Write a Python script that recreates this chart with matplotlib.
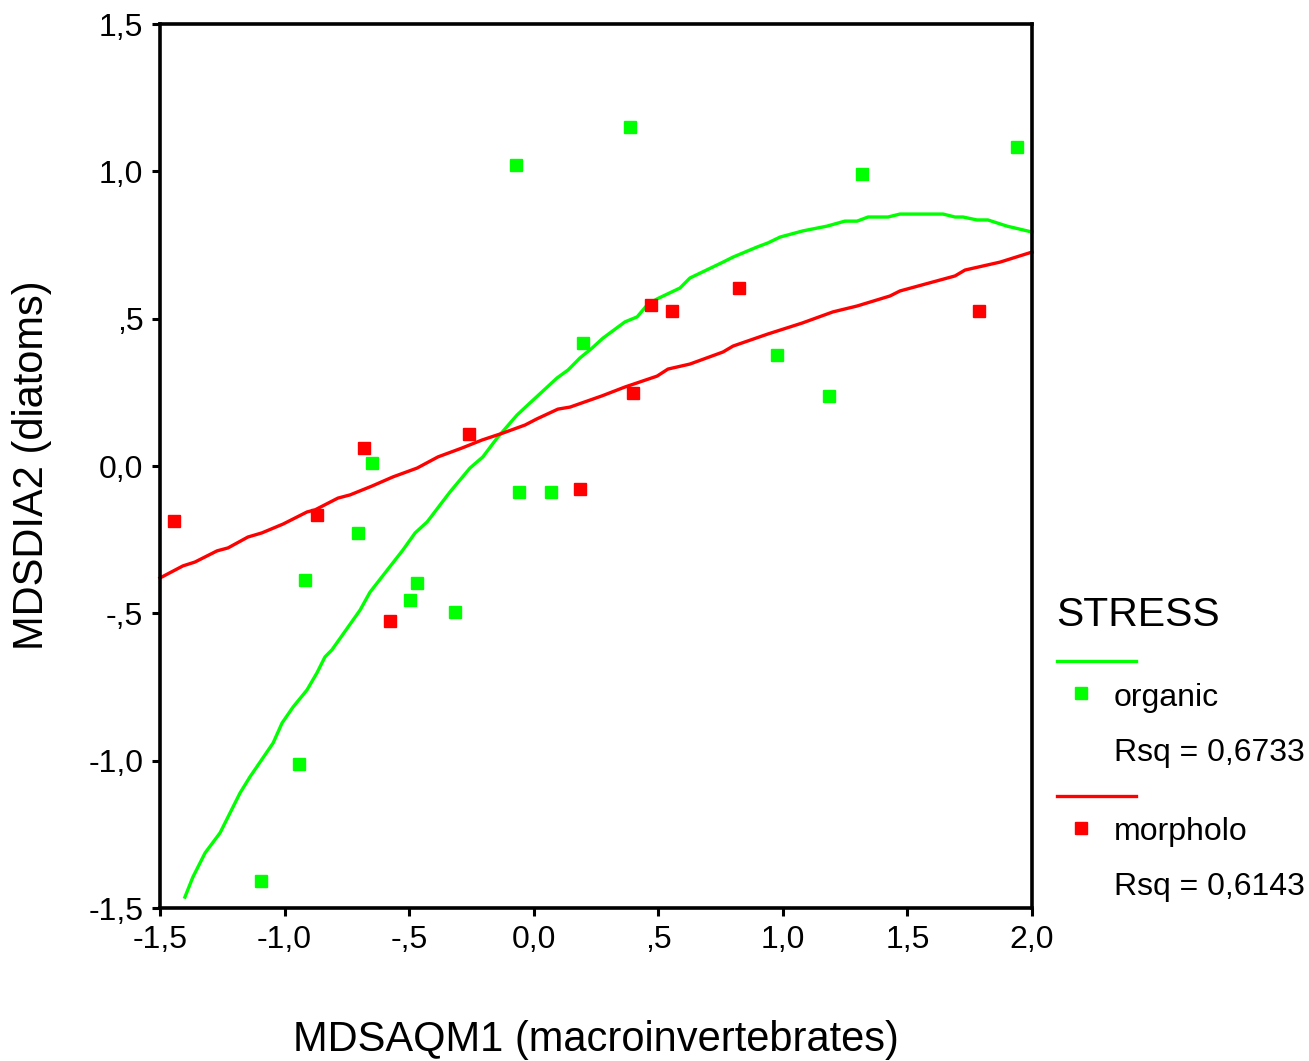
import numpy as np
import matplotlib
matplotlib.use("Agg")
import matplotlib.pyplot as plt
from matplotlib.lines import Line2D

plt.rcParams['font.family'] = ['Liberation Sans', 'DejaVu Sans']

organic_x = [-0.071, 0.386, 1.940, 1.318, 0.198, 0.977, 1.185, -0.649, -0.705, -0.059,
             0.069, -0.918, -0.468, -0.497, -0.316, -0.942, -1.095]
organic_y = [1.022, 1.150, 1.083, 0.991, 0.417, 0.377, 0.238, 0.010, -0.227, -0.088,
             -0.088, -0.387, -0.397, -0.455, -0.495, -1.011, -1.408]
morph_x = [-1.444, -0.681, -0.870, -0.260, -0.577, 0.186, 0.399, 0.471, 0.555, 0.824, 1.787]
morph_y = [-0.187, 0.061, -0.166, 0.109, -0.526, -0.078, 0.248, 0.546, 0.526, 0.604, 0.526]

# curvas de ajuste
fit_org_x = [-1.400, -1.368, -1.319, -1.259, -1.179, -1.139, -1.046, -1.010, -0.966, -0.910,
             -0.870, -0.838, -0.810, -0.697, -0.657, -0.525, -0.476, -0.428, -0.336, -0.256,
             -0.204, -0.147, -0.067, -0.015, 0.094, 0.138, 0.186, 0.234, 0.278, 0.366,
             0.415, 0.455, 0.495, 0.587, 0.627, 0.760, 0.800, 0.896, 0.940, 0.989,
             1.081, 1.177, 1.249, 1.298, 1.342, 1.422, 1.470, 1.643, 1.691, 1.723,
             1.779, 1.823, 1.900, 2.000]
fit_org_y = [-1.463, -1.395, -1.313, -1.245, -1.110, -1.055, -0.940, -0.872, -0.818, -0.760,
             -0.702, -0.648, -0.624, -0.489, -0.428, -0.285, -0.227, -0.190, -0.088, -0.007,
             0.031, 0.095, 0.173, 0.214, 0.299, 0.326, 0.367, 0.400, 0.434, 0.489,
             0.506, 0.546, 0.567, 0.604, 0.638, 0.692, 0.709, 0.743, 0.757, 0.777,
             0.798, 0.814, 0.831, 0.831, 0.845, 0.845, 0.855, 0.855, 0.845, 0.845,
             0.835, 0.835, 0.814, 0.794]
fit_mor_x = [-1.500, -1.408, -1.360, -1.271, -1.227, -1.147, -1.091, -1.006, -0.910, -0.878,
             -0.786, -0.737, -0.649, -0.565, -0.468, -0.384, -0.288, -0.208, -0.123, -0.035,
             0.013, 0.097, 0.146, 0.274, 0.366, 0.495, 0.539, 0.627, 0.760, 0.800,
             0.940, 1.077, 1.201, 1.298, 1.430, 1.470, 1.691, 1.731, 1.872, 2.000]
fit_mor_y = [-0.380, -0.339, -0.326, -0.288, -0.278, -0.241, -0.227, -0.197, -0.156, -0.149,
             -0.109, -0.098, -0.068, -0.037, -0.007, 0.031, 0.061, 0.088, 0.112, 0.139,
             0.160, 0.193, 0.200, 0.238, 0.268, 0.305, 0.329, 0.346, 0.387, 0.407,
             0.448, 0.485, 0.523, 0.543, 0.577, 0.594, 0.645, 0.665, 0.692, 0.726]

xticks = [-1.5, -1.0, -0.5, 0.0, 0.5, 1.0, 1.5, 2.0]
xtick_labels = ['-1,5', '-1,0', '-,5', '0,0', ',5', '1,0', '1,5', '2,0']
yticks = [-1.5, -1.0, -0.5, 0.0, 0.5, 1.0, 1.5]
ytick_labels = ['-1,5', '-1,0', '-,5', '0,0', ',5', '1,0', '1,5']

GREEN = '#00ff00'
RED = '#ff0000'
W, H = 1309, 1061

fig = plt.figure(figsize=(W / 100, H / 100), dpi=100)
ax = fig.add_axes([160 / W, 1 - 908 / H, 872 / W, 884 / H])

ax.plot(fit_org_x, fit_org_y, color=GREEN, lw=2.4, clip_on=False)
ax.plot(fit_mor_x, fit_mor_y, color=RED, lw=2.4, clip_on=False)
ax.plot(organic_x, organic_y, 's', color=GREEN, ms=8.5, mec=GREEN, ls='none')
ax.plot(morph_x, morph_y, 's', color=RED, ms=8.5, mec=RED, ls='none')

ax.set_xlim(-1.5, 2.0)
ax.set_ylim(-1.5, 1.5)
ax.set_xticks(xticks)
ax.set_xticklabels(xtick_labels)
ax.set_yticks(yticks)
ax.set_yticklabels(ytick_labels)
ax.tick_params(direction='out', length=6, width=2.2, labelsize=23, pad=6)
for s in ax.spines.values():
    s.set_linewidth(2.6)

ax.set_xlabel('MDSAQM1 (macroinvertebrates)', fontsize=30, va='center')
ax.xaxis.set_label_coords(0.5, -0.149)
ax.set_ylabel('MDSDIA2 (diatoms)', fontsize=30, va='center', ha='center')
ax.yaxis.set_label_coords(-0.147, 0.501)

# leyenda a mano
def fx(px):
    return px / W

def fy(py):
    return 1 - py / H

fig.text(fx(1056), fy(615), 'STRESS', fontsize=29.5, va='center', ha='left')
fig.add_artist(Line2D([fx(1057), fx(1136)], [fy(661), fy(661)], color=GREEN, lw=2.4))
fig.add_artist(Line2D([fx(1081)], [fy(693)], marker='s', color=GREEN, ms=8, ls='none'))
fig.text(fx(1114), fy(698), 'organic', fontsize=23, va='center', ha='left')
fig.text(fx(1114), fy(753), 'Rsq = 0,6733', fontsize=23, va='center', ha='left')
fig.add_artist(Line2D([fx(1057), fx(1136)], [fy(796), fy(796)], color=RED, lw=2.4))
fig.add_artist(Line2D([fx(1081)], [fy(828)], marker='s', color=RED, ms=8, ls='none'))
fig.text(fx(1114), fy(832), 'morpholo', fontsize=23, va='center', ha='left')
fig.text(fx(1114), fy(887), 'Rsq = 0,6143', fontsize=23, va='center', ha='left')

fig.savefig('out.png', dpi=100)
